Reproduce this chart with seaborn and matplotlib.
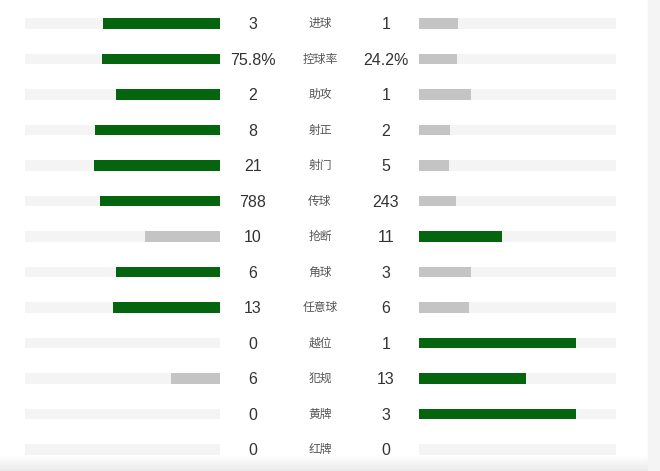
import numpy as np
import matplotlib.pyplot as plt
import seaborn as sns
from matplotlib.patches import Rectangle

# match stats, home on the left, away on the right
stats = ['进球', '控球率', '助攻', '射正', '射门', '传球', '抢断',
         '角球', '任意球', '越位', '犯规', '黄牌', '红牌']
home_values = ['3', '75.8%', '2', '8', '21', '788', '10', '6', '13', '0', '6', '0', '0']
away_values = ['1', '24.2%', '1', '2', '5', '243', '11', '3', '6', '1', '13', '3', '0']

# bar length as a fraction of the grey track
home_bar = [0.60, 0.605, 0.533, 0.64, 0.646, 0.615, 0.385, 0.533, 0.547, 0.0, 0.253, 0.0, 0.0]
away_bar = [0.20, 0.195, 0.267, 0.16, 0.154, 0.19, 0.42, 0.267, 0.253, 0.80, 0.547, 0.80, 0.0]

GREEN = '#05650f'
GREY = '#c4c4c4'
TRACK = '#f4f4f4'

sns.set_theme(style='white')
plt.rcParams['font.family'] = ['Noto Sans CJK SC', 'DejaVu Sans']

W, H = 660, 471
fig = plt.figure(figsize=(6.6, 4.71), dpi=100)


def px_axes(x0, x1, y0, y1):
    return fig.add_axes([x0 / W, 1 - y1 / H, (x1 - x0) / W, (y1 - y0) / H])


# page background: scrollbar strip on the right, soft shadow at the bottom
bg = fig.add_axes([0, 0, 1, 1], zorder=-10)
grad = np.linspace(1.0, 0.92, 30).reshape(-1, 1)
bg.imshow(grad, cmap='gray', vmin=0, vmax=1, extent=(0, W, H, 455), aspect='auto')
bg.add_patch(Rectangle((648, 0), 12, H, color='#f4f4f4', zorder=3))
bg.set_xlim(0, W)
bg.set_ylim(H, 0)
bg.axis('off')

top, bottom = 5.75, 467.25


def side(ax, mine, other, invert):
    sns.barplot(x=np.ones(len(stats)), y=stats, color=TRACK, saturation=1,
                width=0.29, linewidth=0, ax=ax)
    colors = [GREEN if m > o else GREY for m, o in zip(mine, other)]
    sns.barplot(x=mine, y=stats, hue=stats, palette=colors, saturation=1,
                width=0.29, linewidth=0, legend=False, ax=ax)
    ax.set_xlim((1, 0) if invert else (0, 1))
    ax.set_ylim(12.5, -0.5)
    ax.axis('off')


axL = px_axes(25, 220, top, bottom)
side(axL, home_bar, away_bar, True)

axR = px_axes(419, 615.5, top, bottom)
side(axR, away_bar, home_bar, False)

axM = px_axes(220, 419, top, bottom)
axM.set_xlim(220, 419)
axM.set_ylim(12.5, -0.5)
axM.axis('off')
axM.patch.set_alpha(0)
num_font = ['Liberation Sans', 'DejaVu Sans']
for i, name in enumerate(stats):
    axM.text(253, i + 0.04, home_values[i], ha='center', va='center',
             fontsize=11.5, color='#333333', family=num_font)
    axM.text(386, i + 0.04, away_values[i], ha='center', va='center',
             fontsize=11.5, color='#333333', family=num_font)
    axM.text(320, i, name, ha='center', va='center', fontsize=8.5, color='#555555')

fig.savefig('out.png', dpi=100)
